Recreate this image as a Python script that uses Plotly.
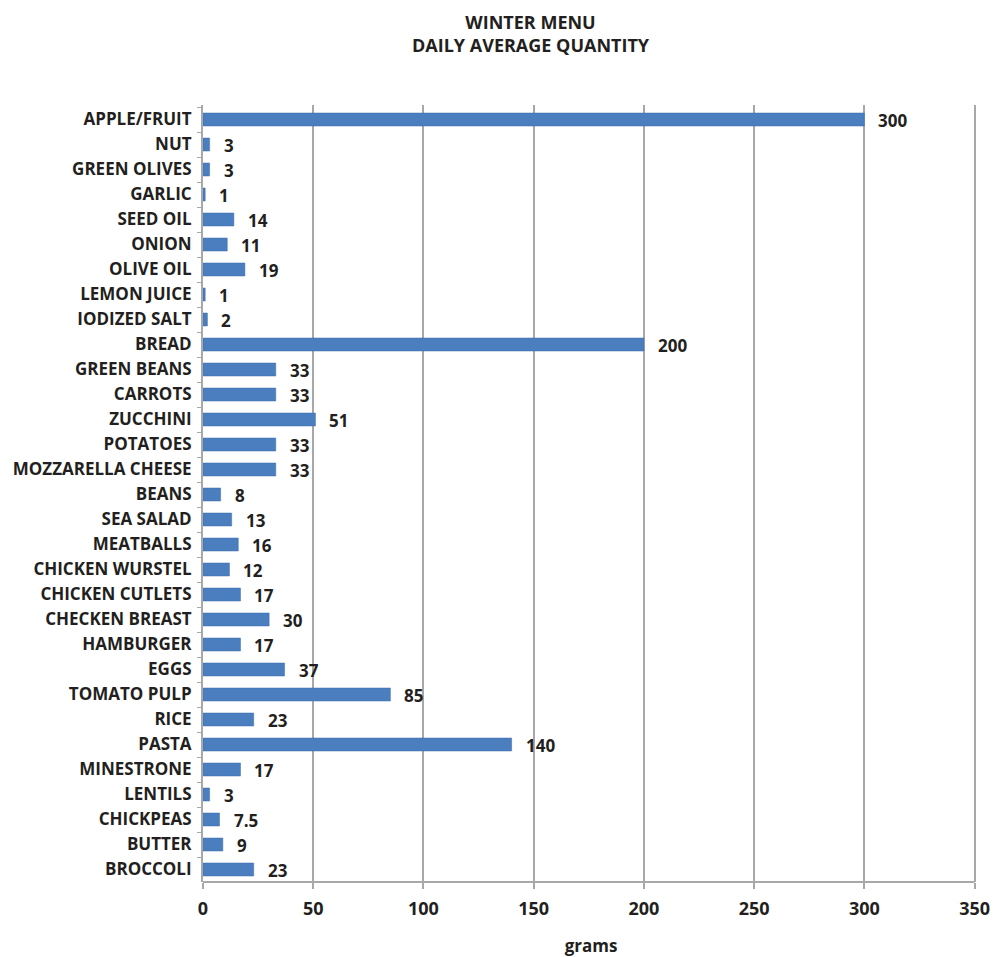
import plotly.graph_objects as go

categories = ["APPLE/FRUIT", "NUT", "GREEN OLIVES", "GARLIC", "SEED OIL", "ONION", "OLIVE OIL",
              "LEMON JUICE", "IODIZED SALT", "BREAD", "GREEN BEANS", "CARROTS", "ZUCCHINI",
              "POTATOES", "MOZZARELLA CHEESE", "BEANS", "SEA SALAD", "MEATBALLS", "CHICKEN WURSTEL",
              "CHICKEN CUTLETS", "CHECKEN BREAST", "HAMBURGER", "EGGS", "TOMATO PULP", "RICE",
              "PASTA", "MINESTRONE", "LENTILS", "CHICKPEAS", "BUTTER", "BROCCOLI"]
values = [300, 3, 3, 1, 14, 11, 19, 1, 2, 200, 33, 33, 51, 33, 33, 8, 13, 16, 12, 17, 30, 17,
          37, 85, 23, 140, 17, 3, 7.5, 9, 23]
value_labels = ["300", "3", "3", "1", "14", "11", "19", "1", "2", "200", "33", "33", "51", "33",
                "33", "8", "13", "16", "12", "17", "30", "17", "37", "85", "23", "140", "17", "3",
                "7.5", "9", "23"]
x_ticks = [0, 50, 100, 150, 200, 250, 300, 350]

FONT = "Open Sans"
TXT = "#231f20"
W, H = 995, 957
ML, MR, MT, MB = 203, 16, 105, 75
PW, PH = W - ML - MR, H - MT - MB

fig = go.Figure()
fig.add_trace(go.Bar(
    x=values, y=categories, orientation="h",
    marker=dict(color="#4a7ebf", line=dict(color="#3d6cab", width=0.5)),
    width=0.52,
))

for v, c, t in zip(values, categories, value_labels):
    fig.add_annotation(x=v, y=c, text=t, showarrow=False, xanchor="left", yanchor="middle",
                       xshift=12, yshift=-1,
                       font=dict(family=FONT, size=17, color=TXT, weight="bold"))

fig.add_annotation(xref="paper", yref="paper", x=(531 - ML) / PW, y=1 + (MT - 8) / PH,
                   xanchor="center", yanchor="top", showarrow=False,
                   text="WINTER MENU<br>DAILY AVERAGE QUANTITY",
                   font=dict(family=FONT, size=18, color=TXT, weight="bold"))

fig.update_layout(
    width=W, height=H,
    margin=dict(l=ML, r=MR, t=MT, b=MB, autoexpand=False),
    paper_bgcolor="white", plot_bgcolor="white",
    showlegend=False,
    xaxis=dict(range=[0, 352], tickvals=x_ticks, showgrid=True, gridcolor="#a8a8a8", gridwidth=2,
               showline=False, ticks="outside", ticklen=6,
               tickcolor="#a8a8a8", tickwidth=2, zeroline=False, automargin=False,
               ticklabelstandoff=4,
               tickfont=dict(family=FONT, size=18, color=TXT, weight="bold"),
               title=dict(text="grams", font=dict(family=FONT, size=17, color=TXT, weight="bold"),
                          standoff=22)),
    yaxis=dict(autorange="reversed", showline=True, linecolor="#a8a8a8", linewidth=2,
               ticks="outside", ticklen=4, tickcolor="#a8a8a8", tickwidth=1, tickson="boundaries",
               showgrid=False, ticklabelstandoff=6, automargin=False,
               tickfont=dict(family=FONT, size=17, color=TXT, weight="bold")),
)
# bottom axis line spanning 0..350 like the reference
fig.add_shape(type="line", xref="x", yref="paper", x0=x_ticks[0], x1=x_ticks[-1], y0=0, y1=0,
              line=dict(color="#a8a8a8", width=2), layer="above")

fig.write_html("out.html")
